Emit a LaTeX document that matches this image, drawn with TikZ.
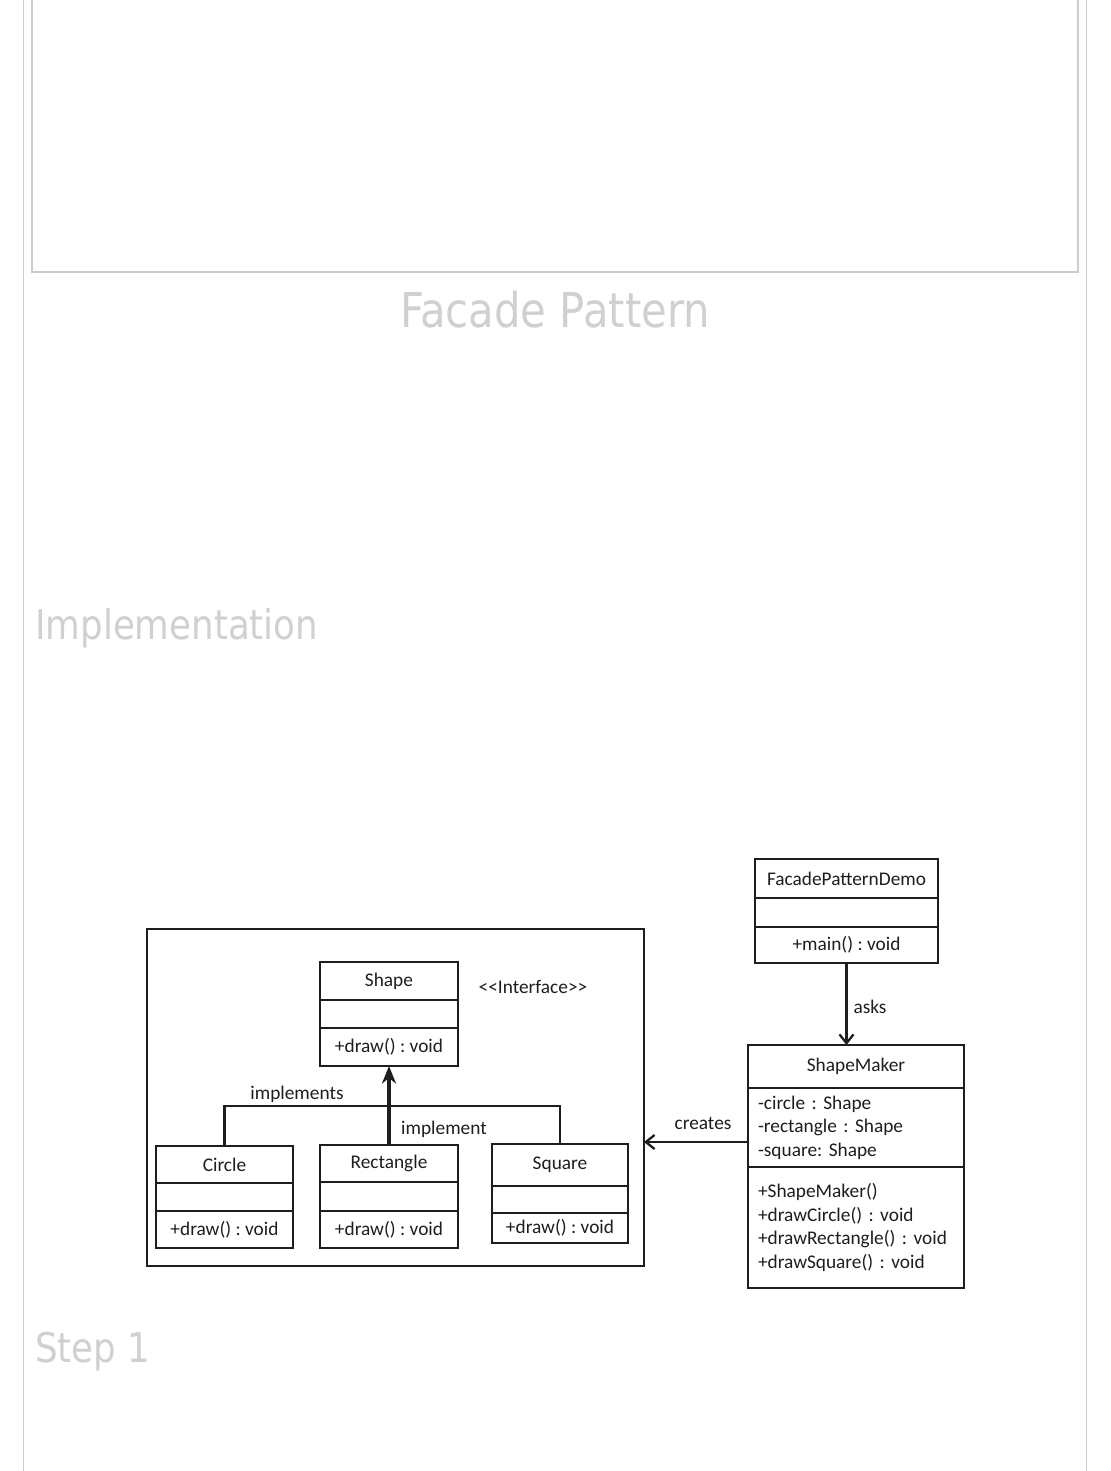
\documentclass[tikz,border=0pt]{standalone}
\usepackage{fontspec}
\usetikzlibrary{positioning,arrows.meta}
\newfontfamily\headfont[FakeStretch=0.87]{DejaVu Sans}
\newfontfamily\umlfont{Carlito}
\definecolor{pagegray}{HTML}{CCCCCC}
\definecolor{headgray}{HTML}{D0D0D0}
\definecolor{ink}{HTML}{1E1E1E}
\newlength\pxu
\setlength\pxu{0.02cm}
\begin{document}
\begin{tikzpicture}[x=\pxu, y=-\pxu,
    part/.style={draw=ink, line width=1.35pt, inner sep=2pt, outer sep=0pt,
        font=\umlfont\fontsize{11}{13.3}\selectfont\frenchspacing, text=ink},
    lbl/.style={font=\umlfont\fontsize{11}{13.3}\selectfont, text=ink, inner sep=1pt},
    head/.style={text=headgray, inner sep=0pt, anchor=base west},
    pageline/.style={draw=pagegray, line width=0.8pt}]

    \useasboundingbox (0,0) rectangle (1110,1471);
    \fill[white] (0,0) rectangle (1110,1471);

    % Page frame
    \draw[pageline] (23.5,0) -- (23.5,1471);
    \draw[pageline] (1086.5,0) -- (1086.5,1471);
    \draw[pageline] (32,0) |- (1078,272) -- (1078,0);

    % Headings
    \node[head, anchor=base] (title) at (555,327) {\headfont\fontsize{27.3}{30}\selectfont Facade Pattern};
    \node[head] (impl) at (35,639) {\headfont\fontsize{23.3}{26}\selectfont Implementation};
    \node[head] (step) at (35,1362) {\headfont\fontsize{23.3}{26}\selectfont Step 1};

    % Package frame
    \node[draw=ink, line width=1.5pt, outer sep=0pt, minimum width=497\pxu, minimum height=337\pxu] (frame) at (395.5,1097.5) {};

    % Shape
    \node[part, minimum width=138\pxu, minimum height=38\pxu, anchor=north west] (shape) at (320,962) {Shape};
    \node[part, minimum width=138\pxu, minimum height=28\pxu, below=0pt of shape] (shape-a) {};
    \node[part, minimum width=138\pxu, minimum height=38\pxu, below=0pt of shape-a] (shape-m) {+draw() : void};
    \node[lbl] (iface) at (533,987) {\textless\textless Interface\textgreater\textgreater};

    % Circle
    \node[part, minimum width=137\pxu, minimum height=37\pxu, anchor=north west] (circ) at (156,1146) {Circle};
    \node[part, minimum width=137\pxu, minimum height=28\pxu, below=0pt of circ] (circ-a) {};
    \node[part, minimum width=137\pxu, minimum height=37\pxu, below=0pt of circ-a] (circ-m) {+draw() : void};

    % Rectangle
    \node[part, minimum width=138\pxu, minimum height=37\pxu, anchor=north west] (rect) at (320,1145) {Rectangle};
    \node[part, minimum width=138\pxu, minimum height=29\pxu, below=0pt of rect] (rect-a) {};
    \node[part, minimum width=138\pxu, minimum height=37\pxu, below=0pt of rect-a] (rect-m) {+draw() : void};

    % Square
    \node[part, minimum width=136\pxu, minimum height=42\pxu, anchor=north west] (sqr) at (492,1144) {Square};
    \node[part, minimum width=136\pxu, minimum height=27\pxu, below=0pt of sqr] (sqr-a) {};
    \node[part, minimum width=136\pxu, minimum height=30\pxu, below=0pt of sqr-a] (sqr-m) {+draw() : void};

    % FacadePatternDemo
    \node[part, minimum width=183\pxu, minimum height=39\pxu, anchor=north west] (demo) at (755,859) {FacadePatternDemo};
    \node[part, minimum width=183\pxu, minimum height=29\pxu, below=0pt of demo] (demo-a) {};
    \node[part, minimum width=183\pxu, minimum height=36\pxu, below=0pt of demo-a] (demo-m) {+main() : void};

    % ShapeMaker
    \node[part, minimum width=216\pxu, minimum height=43\pxu, anchor=north west] (maker) at (748,1045) {ShapeMaker};
    \node[part, minimum width=216\pxu, minimum height=79\pxu, below=0pt of maker,
        inner xsep=10\pxu, text width=196\pxu, align=left] (maker-a)
        {-circle : Shape\\-rectangle : Shape\\-square: Shape};
    \node[part, minimum width=216\pxu, minimum height=121\pxu, below=0pt of maker-a,
        inner xsep=10\pxu, text width=196\pxu, align=left] (maker-m)
        {+ShapeMaker()\\+drawCircle() : void\\+drawRectangle() : void\\+drawSquare() : void};

    % Realisation links
    \coordinate (bar) at (388,1106);
    \draw[draw=ink, line width=1.5pt] (circ.north) |- (bar) -| (sqr.north);
    \draw[draw=ink, line width=1.8pt, -{Stealth[length=10pt,width=8pt]}] (rect.north) -- (shape-m.south);
    \node[lbl] (implements) at (297,1094) {implements};
    \node[lbl] (implement) at (444,1129) {implement};

    % asks
    \draw[draw=ink, line width=1.3pt, -{Straight Barb[length=5pt,width=8pt]}]
        (demo-m.south) -- (demo-m.south |- maker.north);
    \node[lbl] (asks) at (870,1007) {asks};

    % creates
    \coordinate (crt) at (700,1142);
    \draw[draw=ink, line width=1.3pt, -{Straight Barb[length=5pt,width=8pt]}]
        (maker-a.west |- crt) -- (frame.east |- crt);
    \node[lbl] (creates) at (703,1123) {creates};
\end{tikzpicture}
\end{document}
